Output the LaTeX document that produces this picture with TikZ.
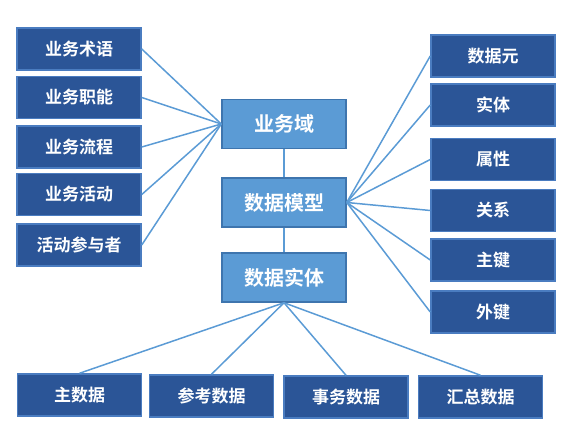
\documentclass[tikz,border=0pt]{standalone}
\usepackage{fontspec}
\newfontfamily\cjk{Noto Sans CJK SC}[BoldFont={* Bold}]
\definecolor{darkbox}{HTML}{2B5597}
\definecolor{darkedge}{HTML}{4A7CC0}
\definecolor{midbox}{HTML}{5B9BD5}
\definecolor{midedge}{HTML}{3E75AE}
\definecolor{linkc}{HTML}{5B9BD5}
\begin{document}
\begin{tikzpicture}[x=1pt,y=-1pt,
  outer/.style={draw=darkedge,line width=1.5pt,fill=darkbox,text=white,minimum width=124pt,minimum height=42pt,inner sep=0pt,font=\cjk\bfseries\fontsize{17}{17}\selectfont},
  centre/.style={draw=midedge,line width=1.5pt,fill=midbox,text=white,minimum width=124pt,minimum height=49pt,inner sep=0pt,font=\cjk\bfseries\fontsize{20}{20}\selectfont},
  link/.style={draw=linkc,line width=1.5pt}]
\useasboundingbox (0,0) rectangle (572,443);
% centre
\node[centre] (dom) at (284,124) {业务域};
\node[centre] (model) at (284,202.5) {数据模型};
\node[centre] (ent) at (284,277.5) {数据实体};
% left
\node[outer] (l1) at (79,49) {业务术语};
\node[outer] (l2) at (79,97.5) {业务职能};
\node[outer] (l3) at (79,147) {业务流程};
\node[outer] (l4) at (79,194.5) {业务活动};
\node[outer] (l5) at (79,245) {活动参与者};
% right
\node[outer] (r1) at (493,56) {数据元};
\node[outer] (r2) at (493,105) {实体};
\node[outer] (r3) at (493,159.5) {属性};
\node[outer] (r4) at (493,210.5) {关系};
\node[outer] (r5) at (493,260) {主键};
\node[outer] (r6) at (493,312) {外键};
% bottom
\node[outer] (b1) at (79.5,395) {主数据};
\node[outer] (b2) at (211.5,396) {参考数据};
\node[outer] (b3) at (346,397) {事务数据};
\node[outer] (b4) at (480.5,397) {汇总数据};
% links
\begin{scope}[on background layer/.try]
\end{scope}
\foreach \n in {l1,l2,l3,l4,l5} \draw[link] (\n.east) -- (dom.west);
\foreach \n in {r1,r2,r3,r4,r5,r6} \draw[link] (model.east) -- (\n.west);
\foreach \n in {b1,b2,b3,b4} \draw[link] (ent.south) -- (\n.north);
\draw[link] (dom.south) -- (model.north);
\draw[link] (model.south) -- (ent.north);
\end{tikzpicture}
\end{document}
